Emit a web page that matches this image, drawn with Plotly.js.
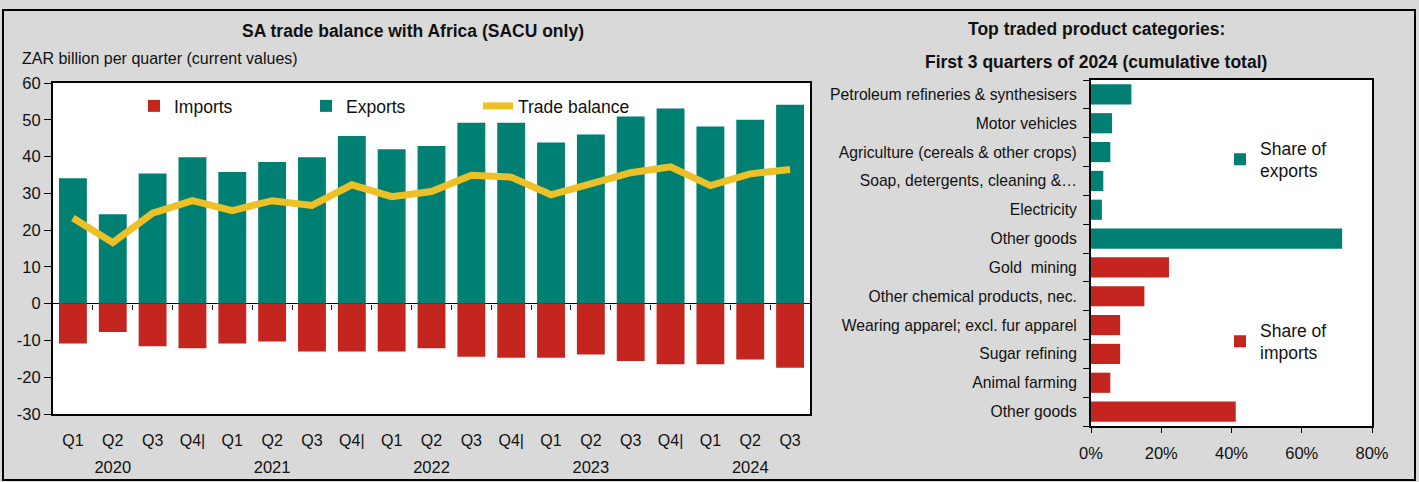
<!DOCTYPE html>
<html>
<head>
<meta charset="utf-8">
<script src="https://cdn.plot.ly/plotly-3.0.1.min.js"></script>
<style>
html,body{margin:0;padding:0;background:#d9d9d9;}
#chart{width:1419px;height:482px;}
</style>
</head>
<body>
<div id="chart"></div>
<script>
// ---- Left chart data (ZAR billion per quarter) ----
const years = ["2020","2020","2020","2020","2021","2021","2021","2021","2022","2022","2022","2022","2023","2023","2023","2023","2024","2024","2024"];
const quarters = ["Q1","Q2","Q3","Q4|","Q1","Q2","Q3","Q4|","Q1","Q2","Q3","Q4|","Q1","Q2","Q3","Q4|","Q1","Q2","Q3"];
const exportsZar = [34.1,24.3,35.4,39.8,35.8,38.5,39.8,45.6,42.0,42.9,49.2,49.2,43.8,46.0,50.9,53.1,48.2,50.0,54.1];
const importsZar = [-10.8,-7.7,-11.6,-12.1,-10.8,-10.3,-13.0,-13.0,-13.0,-12.1,-14.4,-14.7,-14.7,-13.8,-15.6,-16.5,-16.5,-15.2,-17.4];
const tradeBalance = [23.3,16.6,24.6,28.0,25.3,28.0,26.7,32.3,29.1,30.5,34.9,34.4,29.6,32.6,35.6,37.2,32.1,35.3,36.5];
const yTickVals = [-30,-20,-10,0,10,20,30,40,50,60];
const yTickText = ["-30","-20","-10","0","10","20","30","40","50","60"];

// ---- Right chart data (share, %) ----
const exportProducts = ["Petroleum refineries & synthesisers","Motor vehicles","Agriculture (cereals & other crops)","Soap, detergents, cleaning &…","Electricity","Other goods"];
const exportShares = [11.5,6.0,5.5,3.5,3.1,71.5];
const importProducts = ["Gold  mining","Other chemical products, nec.","Wearing apparel; excl. fur apparel","Sugar refining","Animal farming","Other goods"];
const importShares = [22.2,15.2,8.3,8.3,5.5,41.2];

const TEAL = "#007F73", RED = "#C4261F", YELLOW = "#EDC125";
const FONT = "Liberation Sans, Arial, sans-serif";

const W = 1419, H = 482;
const px = v => v / W, py = v => 1 - v / H;

const periods = quarters.map((q, i) => years[i] + " " + q);
const idx = quarters.map((q, i) => i);
const yearTickVals = idx.filter(i => quarters[i] === "Q2");
const yearTickText = yearTickVals.map(i => years[i]);
const boundaryVals = idx.slice(0, -1).map(i => i + 0.5);

const expIds = exportProducts.map(p => "Exports: " + p);
const impIds = importProducts.map(p => "Imports: " + p);
const allIds = expIds.concat(impIds);
const allLabels = exportProducts.concat(importProducts);

const leftDom = [px(53), px(810)];
const leftYDom = [py(414), py(83)];
const yMin = -30, yMax = 60;
const zeroPos = leftYDom[0] + (leftYDom[1] - leftYDom[0]) * (0 - yMin) / (yMax - yMin);

const traces = [
  {type:"bar", name:"Imports", x:periods, y:importsZar, marker:{color:RED}, xaxis:"x", yaxis:"y", legend:"legend"},
  {type:"bar", name:"Exports", x:periods, y:exportsZar, marker:{color:TEAL}, xaxis:"x", yaxis:"y", legend:"legend"},
  {type:"scatter", mode:"lines", name:"Trade balance", x:periods, y:tradeBalance, line:{color:YELLOW, width:7}, xaxis:"x", yaxis:"y", legend:"legend"},
  // empty helper traces so the overlay axes (zero-line ticks, year labels) get drawn
  {type:"scatter", x:[], y:[], xaxis:"x2", yaxis:"y", showlegend:false, hoverinfo:"skip"},
  {type:"scatter", x:[], y:[], xaxis:"x3", yaxis:"y", showlegend:false, hoverinfo:"skip"},
  {type:"bar", orientation:"h", name:"Share of<br>exports", y:expIds, x:exportShares, marker:{color:TEAL}, xaxis:"x4", yaxis:"y4", legend:"legend2"},
  {type:"bar", orientation:"h", name:"Share of<br>imports", y:impIds, x:importShares, marker:{color:RED}, xaxis:"x4", yaxis:"y4", legend:"legend3"}
];

const layout = {
  width: W, height: H,
  margin:{l:0,r:0,t:0,b:0},
  paper_bgcolor:"#d9d9d9",
  plot_bgcolor:"#ffffff",
  font:{family:FONT, size:16, color:"#111"},
  barmode:"relative",
  bargap:0.3,
  title:{text:"<b>SA trade balance with Africa (SACU only)</b>", x:px(413), xanchor:"center", y:py(31), yanchor:"middle", font:{size:17.5, family:FONT, color:"#111"}},
  xaxis:{
    domain:leftDom, anchor:"y", type:"category",
    tickvals:periods, ticktext:quarters, ticks:"", ticklabelstandoff:11,
    showline:true, mirror:true, linecolor:"#000", linewidth:2, showgrid:false, zeroline:false,
    tickfont:{size:16}
  },
  xaxis2:{
    overlaying:"x", anchor:"free", position:zeroPos, side:"bottom",
    range:[-0.5, 18.5], tickvals:boundaryVals, ticks:"outside", ticklen:5, tickwidth:1, tickcolor:"#000",
    showticklabels:false, showline:false, showgrid:false, zeroline:false
  },
  xaxis3:{
    overlaying:"x", anchor:"y", side:"bottom",
    range:[-0.5, 18.5], tickvals:yearTickVals, ticktext:yearTickText, ticks:"", ticklabelstandoff:41,
    showline:false, showgrid:false, zeroline:false, tickfont:{size:16.5}
  },
  yaxis:{
    domain:leftYDom, anchor:"x", range:[yMin, yMax], tickvals:yTickVals, ticktext:yTickText,
    ticks:"outside", ticklen:7, tickcolor:"#000", tickwidth:1,
    showline:true, mirror:true, linecolor:"#000", linewidth:2, showgrid:false,
    zeroline:true, zerolinecolor:"#000", zerolinewidth:1.5, tickfont:{size:16.5}
  },
  xaxis4:{
    domain:[px(1091), px(1372)], anchor:"y4", range:[0,80], dtick:20, ticksuffix:"%",
    ticks:"outside", ticklen:5, tickcolor:"#000",
    showline:true, mirror:true, linecolor:"#000", linewidth:2, showgrid:false, zeroline:false,
    ticklabelstandoff:6, tickfont:{size:16.5}
  },
  yaxis4:{
    domain:[py(426), py(80)], anchor:"x4", type:"category",
    categoryorder:"array", categoryarray:allIds, autorange:"reversed",
    tickvals:allIds, ticktext:allLabels, tickson:"boundaries",
    ticks:"outside", ticklen:6, tickcolor:"#000", ticklabelstandoff:9,
    showline:true, mirror:true, linecolor:"#000", linewidth:2, showgrid:false, zeroline:false,
    tickfont:{size:15.7}
  },
  legend:{orientation:"h", x:px(134), xanchor:"left", y:py(88), yanchor:"top", bgcolor:"rgba(0,0,0,0)",
          entrywidth:127, entrywidthmode:"pixels", font:{size:17.5}, traceorder:"normal"},
  legend2:{x:px(1220), xanchor:"left", y:py(130), yanchor:"top", bgcolor:"rgba(0,0,0,0)", font:{size:17.5}, itemwidth:30},
  legend3:{x:px(1220), xanchor:"left", y:py(312), yanchor:"top", bgcolor:"rgba(0,0,0,0)", font:{size:17.5}, itemwidth:30},
  annotations:[
    {text:"ZAR billion per quarter (current values)", xref:"paper", yref:"paper", x:px(20), xanchor:"left", y:py(58), yanchor:"middle", showarrow:false, font:{size:16, family:FONT}},
    {text:"<b>Top traded product categories:</b>", xref:"paper", yref:"paper", x:px(1096), xanchor:"center", y:py(29), yanchor:"middle", showarrow:false, font:{size:17.5, family:FONT}},
    {text:"<b>First 3 quarters of 2024 (cumulative total)</b>", xref:"paper", yref:"paper", x:px(1096), xanchor:"center", y:py(62), yanchor:"middle", showarrow:false, font:{size:17.5, family:FONT}}
  ],
  shapes:[
    {type:"rect", xref:"paper", yref:"paper", x0:px(3), x1:px(1415), y0:py(480), y1:py(10), line:{color:"#000", width:2}, fillcolor:"rgba(0,0,0,0)", layer:"below"}
  ],
  showlegend:true
};

Plotly.newPlot("chart", traces, layout, {displayModeBar:false, staticPlot:true});
</script>
</body>
</html>
